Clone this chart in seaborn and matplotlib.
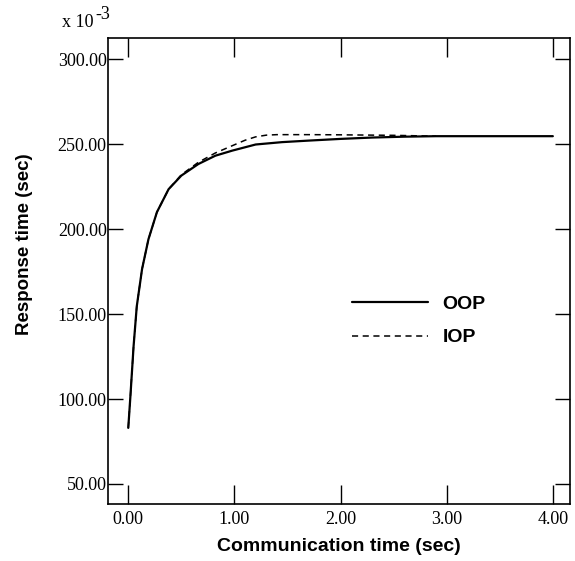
import numpy as np
import pandas as pd
import matplotlib
matplotlib.use("Agg")
import matplotlib.pyplot as plt
import seaborn as sns

# valores (tempo de resposta em unidades de 10^-3 s)
oop_x = [0.0, 0.02, 0.05, 0.08, 0.13, 0.19, 0.27, 0.38, 0.5, 0.66, 0.82, 0.98,
         1.2, 1.45, 1.7, 2.0, 2.3, 2.6, 2.9, 3.5, 4.0]
oop_y = [83, 101.5, 131, 154.5, 176.5, 194, 210, 223.5, 231.5, 238.3, 243.2, 246.2,
         249.8, 251.2, 252.1, 253.1, 253.9, 254.4, 254.7, 254.7, 254.7]

iop_x = [0.0, 0.02, 0.05, 0.08, 0.13, 0.19, 0.27, 0.38, 0.5, 0.66, 0.82, 0.98,
         1.1, 1.2, 1.3, 1.4, 1.7, 2.0, 2.5, 2.9]
iop_y = [83, 101.5, 131, 154.5, 176.5, 194, 210, 223.5, 232, 239.3, 244.8, 249.1,
         252.3, 254.3, 255.3, 255.6, 255.6, 255.5, 255.2, 254.7]

x_ticks = [0.0, 1.0, 2.0, 3.0, 4.0]
y_ticks = [50, 100, 150, 200, 250, 300]

sns.set_theme(style="ticks")
plt.rcParams['font.family'] = ['Liberation Sans', 'DejaVu Sans']
plt.rcParams.update({'text.color': 'black', 'axes.labelcolor': 'black'})

fig = plt.figure(figsize=(5.75, 5.61), dpi=100)
ax = fig.add_axes([0.188, 0.1016, 0.803, 0.8304])

df_oop = pd.DataFrame({'x': oop_x, 'y': oop_y})
df_iop = pd.DataFrame({'x': iop_x, 'y': iop_y})

sns.lineplot(data=df_oop, x='x', y='y', ax=ax, color='black', linewidth=1.6,
             label='OOP', estimator=None, sort=False)
sns.lineplot(data=df_iop, x='x', y='y', ax=ax, color='black', linewidth=1.1,
             linestyle=(0, (4, 3)), label='IOP', estimator=None, sort=False)

ax.set_xlim(-0.19, 4.16)
ax.set_ylim(38.2, 312.4)
ax.set_xticks(x_ticks)
ax.set_yticks(y_ticks)
ax.set_xticklabels([f"{v:.2f}" for v in x_ticks], family='Liberation Serif', fontsize=13)
ax.set_yticklabels([f"{v:.2f}" for v in y_ticks], family='Liberation Serif', fontsize=13)
ax.tick_params(axis='x', direction='in', length=14, width=1, top=True, pad=5, colors='black')
ax.tick_params(axis='y', direction='in', length=11, width=1, right=True, pad=1, colors='black')
for s in ax.spines.values():
    s.set_color('black')
    s.set_linewidth(1.2)

ax.set_xlabel('Communication time (sec)', fontsize=14, fontweight='bold', labelpad=7)
ax.set_ylabel('Response time (sec)', fontsize=13.5, fontweight='bold')
ax.yaxis.set_label_coords(-0.162, 0.558)

fig.text(0.108, 0.952, 'x 10', family='Liberation Serif', fontsize=13)
fig.text(0.166, 0.966, '-3', family='Liberation Serif', fontsize=13)

ax.legend(frameon=False, loc='center left', bbox_to_anchor=(0.491, 0.393),
          handlelength=3.9, handletextpad=0.75, labelspacing=0.8,
          prop={'weight': 'bold', 'size': 14})

fig.savefig('out.png', dpi=100)
